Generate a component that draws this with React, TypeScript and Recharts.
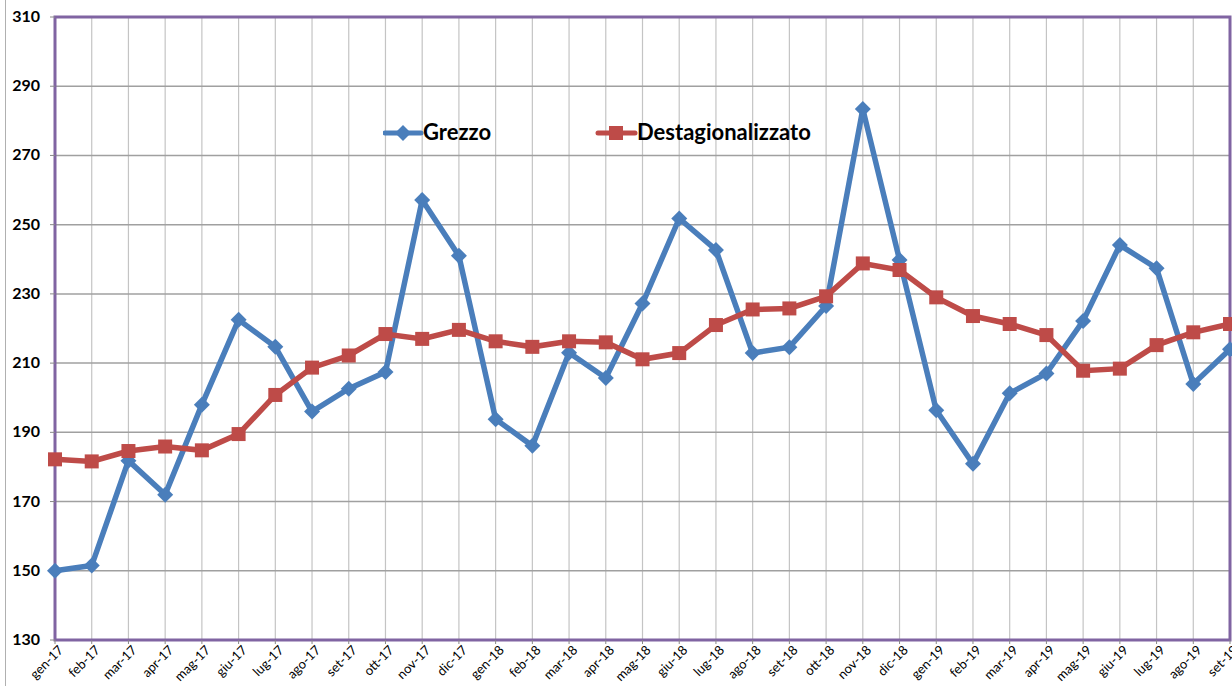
import React from "react";
import { LineChart, Line, XAxis, YAxis, CartesianGrid, ReferenceArea, Legend } from "recharts";

const months = [
  "gen-17", "feb-17", "mar-17", "apr-17", "mag-17", "giu-17", "lug-17", "ago-17", "set-17", "ott-17", "nov-17", "dic-17",
  "gen-18", "feb-18", "mar-18", "apr-18", "mag-18", "giu-18", "lug-18", "ago-18", "set-18", "ott-18", "nov-18", "dic-18",
  "gen-19", "feb-19", "mar-19", "apr-19", "mag-19", "giu-19", "lug-19", "ago-19", "set-19",
];

const grezzo = [
  150, 151.5, 181.8, 172, 198, 222.5, 214.7, 196, 202.6, 207.4, 257.1, 241,
  193.8, 186.1, 213, 205.7, 227.2, 251.8, 242.7, 212.9, 214.6, 226.5, 283.4, 239.8,
  196.4, 180.9, 201.3, 207, 222.2, 244.1, 237.4, 204, 214,
];

const destag = [
  182.2, 181.6, 184.6, 185.9, 184.8, 189.5, 200.8, 208.7, 212.2, 218.4, 217, 219.6,
  216.3, 214.7, 216.3, 216, 211.1, 212.9, 221, 225.5, 225.8, 229.3, 238.8, 236.9,
  229, 223.6, 221.3, 218.1, 207.8, 208.4, 215.2, 218.9, 221.3,
];

const yTicks = [130, 150, 170, 190, 210, 230, 250, 270, 290, 310];

const data = months.map((m, i) => ({ month: m, grezzo: grezzo[i], destag: destag[i] }));

const BLUE = "#4A7EBB";
const RED = "#BE4B48";
const PURPLE = "#8064A2";
const FONT = "Lato, 'Open Sans', sans-serif";

const Diamond = (props: any) => {
  const { cx, cy } = props;
  if (cx == null || cy == null) return null;
  const r = 8;
  return <polygon points={`${cx},${cy - r} ${cx + r},${cy} ${cx},${cy + r} ${cx - r},${cy}`} fill={BLUE} />;
};

const Square = (props: any) => {
  const { cx, cy } = props;
  if (cx == null || cy == null) return null;
  const r = 7;
  return <rect x={cx - r} y={cy - r} width={2 * r} height={2 * r} fill={RED} />;
};

const XTick = (props: any) => {
  const { x, y, payload } = props;
  return (
    <text x={x} y={y} transform={`rotate(-45 ${x} ${y})`} textAnchor="end" dx={3} dy={10} fontSize={13} fill="#000" fontFamily={FONT}>
      {payload.value}
    </text>
  );
};

const YTick = (props: any) => {
  const { x, y, payload } = props;
  return (
    <text x={x} y={y} textAnchor="end" dx={-8} dy={5} fontSize={16} fontWeight="bold" fill="#000" fontFamily={FONT}>
      {payload.value}
    </text>
  );
};

const LegendBox = () => (
  <svg width={460} height={30}>
    <line x1={2} y1={15} x2={38} y2={15} stroke={BLUE} strokeWidth={5} strokeLinecap="round" />
    <polygon points="20,7 28,15 20,23 12,15" fill={BLUE} />
    <text x={40} y={22} fontSize={22} fontWeight="bold" fontFamily={FONT} fill="#000">Grezzo</text>
    <line x1={215} y1={15} x2={252} y2={15} stroke={RED} strokeWidth={5} strokeLinecap="round" />
    <rect x={226} y={8} width={14} height={14} fill={RED} />
    <text x={254} y={22} fontSize={22} fontWeight="bold" fontFamily={FONT} fill="#000">Destagionalizzato</text>
  </svg>
);

export default function App() {
  return (
    <div style={{ position: "absolute", left: 0, top: 0, width: 1232, height: 686, background: "#fff" }}>
      <div style={{ position: "absolute", left: 5, top: 0, width: 1, height: 686, background: "#b0b0b0" }} />
      <LineChart width={1232} height={686} data={data} margin={{ top: 17, right: 2, left: 0, bottom: 0 }}>
        <CartesianGrid horizontal={false} stroke="#c4c4c4" strokeWidth={1.2} />
        <CartesianGrid vertical={false} stroke="#a0a0a0" strokeWidth={1.5} />
        <XAxis
          dataKey="month"
          interval={0}
          height={46}
          tick={<XTick />}
          tickLine={{ stroke: "#888" }}
          tickSize={4}
          axisLine={false}
        />
        <YAxis
          domain={[130, 310]}
          ticks={yTicks}
          width={55}
          tick={<YTick />}
          tickLine={{ stroke: "#888" }}
          tickSize={5}
          axisLine={false}
        />
        <ReferenceArea x1="gen-17" x2="set-19" y1={130} y2={310} fill="none" stroke={PURPLE} strokeWidth={3} />
        <Legend
          verticalAlign="middle"
          align="center"
          content={<LegendBox />}
          wrapperStyle={{ left: 383, top: 118, width: 460 }}
        />
        <Line type="linear" dataKey="grezzo" stroke={BLUE} strokeWidth={5.5} dot={<Diamond />} activeDot={false} isAnimationActive={false} />
        <Line type="linear" dataKey="destag" stroke={RED} strokeWidth={5.5} dot={<Square />} activeDot={false} isAnimationActive={false} />
      </LineChart>
    </div>
  );
}
